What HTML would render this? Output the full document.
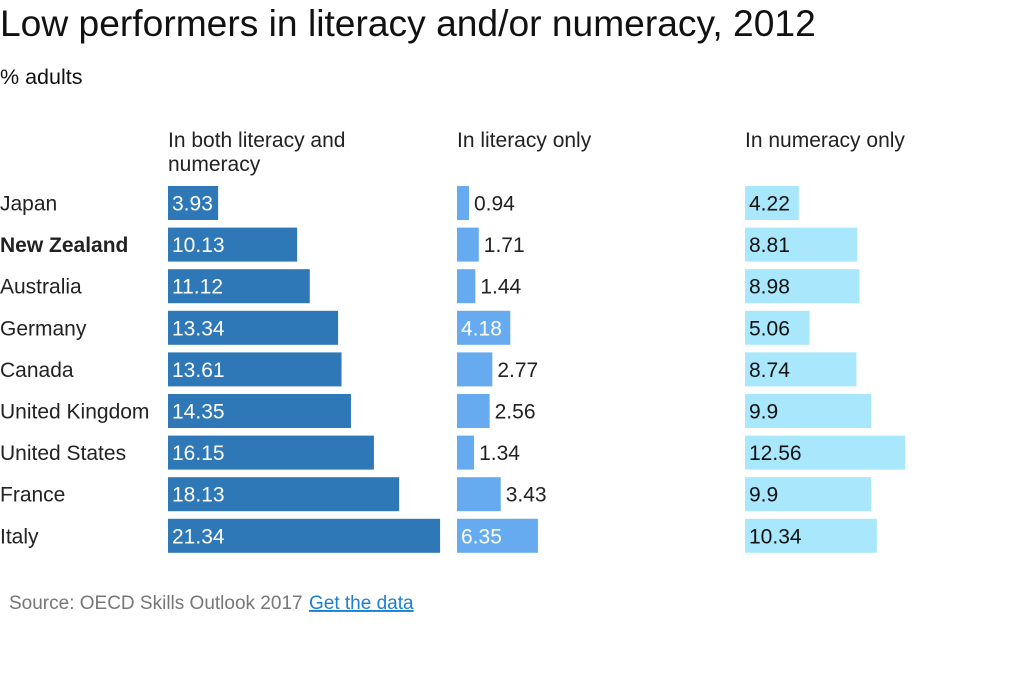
<!DOCTYPE html>
<html><head><meta charset="utf-8">
<style>
body{margin:0;background:#fff;font-family:"Liberation Sans",sans-serif;}
#wrap{position:relative;width:1024px;height:677px;overflow:hidden;}
</style></head>
<body>
<div id="wrap">
<svg id="chart" width="1024" height="677"></svg>
</div>
<script>
const countries=["Japan","New Zealand","Australia","Germany","Canada","United Kingdom","United States","France","Italy"];
const bothVals=[3.93,10.13,11.12,13.34,13.61,14.35,16.15,18.13,21.34];
const literacyVals=[0.94,1.71,1.44,4.18,2.77,2.56,1.34,3.43,6.35];
const numeracyVals=[4.22,8.81,8.98,5.06,8.74,9.9,12.56,9.9,10.34];
const colHeaders=[["In both literacy and","numeracy"],["In literacy only"],["In numeracy only"]];

const NS="http://www.w3.org/2000/svg";
const svg=document.getElementById('chart');
function mk(tag,attrs,txt){const e=document.createElementNS(NS,tag);for(const k in attrs)e.setAttribute(k,attrs[k]);if(txt!==undefined)e.textContent=txt;svg.appendChild(e);return e;}
const scale=v=>v*12.75;
const rowY=i=>186+i*41.6;
const barH=34;
const FS=21;

let t=mk('text',{x:0,y:36,'font-size':37.2,fill:'#111'},'Low performers in literacy and/or numeracy, 2012');


t=mk('text',{x:0,y:84,'font-size':21.5,fill:'#111'},'% adults');



const colX=[168,457,745];
const colors=['#2e78b8','#66abf0','#a8e7fc'];
const series=[bothVals,literacyVals,numeracyVals];
const inColor=['#fff','#fff','#111'];
colHeaders.forEach((lines,c)=>{
  lines.forEach((l,j)=>{
    const h=mk('text',{x:colX[c],y:147+j*24,'font-size':FS,fill:'#222'},l);
    
    
  });
});
countries.forEach((name,i)=>{
  const lab=mk('text',{x:0,y:rowY(i)+barH/2+7.5,'font-size':FS,fill:'#222','font-weight':name==='New Zealand'?'bold':'normal'},name);
  
  
  series.forEach((vals,c)=>{
    const w=scale(vals[i]);
    const r=mk('rect',{x:colX[c],y:rowY(i),width:w,height:barH,fill:colors[c]});
    
    
    const inside=w>48;
    const v=mk('text',{x:inside?colX[c]+4:colX[c]+w+5,y:rowY(i)+barH/2+7.5,'font-size':FS,fill:inside?inColor[c]:'#222'},String(vals[i]));
    
    
  });
});
const src=mk('text',{x:9,y:609,'font-size':19,fill:'#777'},'Source: OECD Skills Outlook 2017');


const a=mk('text',{x:309,y:609,'font-size':19,fill:'#1a7fd0','text-decoration':'underline'},'Get the data');


</script>
</body></html>
